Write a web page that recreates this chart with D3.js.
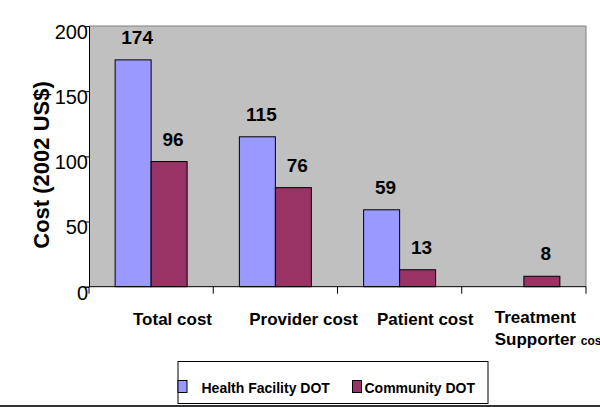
<!DOCTYPE html>
<html>
<head>
<meta charset="utf-8">
<script src="https://cdn.jsdelivr.net/npm/d3@7"></script>
<style>
  html, body { margin: 0; padding: 0; background: #fff; }
  svg { display: block; }
  text { font-family: Arial, "Liberation Sans", Helvetica, sans-serif; }
</style>
</head>
<body>
<svg id="chart" width="600" height="407"></svg>
<script>
const categories = ["Total cost", "Provider cost", "Patient cost", "Treatment Supporter cost"];
const seriesNames = ["Health Facility DOT", "Community DOT"];
const healthFacility = [174, 115, 59, null];
const community = [96, 76, 13, 8];
const yTicks = [0, 50, 100, 150, 200];
const colors = ["#9999ff", "#993366"];

(function () {
const svg = d3.select("#chart");
const pL = 89, pR = 586, pT = 26, pB = 286.7;

const x = d3.scaleBand().domain(categories).range([pL, pR]).paddingInner(0).paddingOuter(0);
const xInner = d3.scaleBand().domain(seriesNames).range([0, x.bandwidth()]).paddingInner(0).paddingOuter(0.726);
const y = d3.scaleLinear().domain([0, 200]).range([pB, pT]);

// plot background
svg.append("rect").attr("x", pL).attr("y", pT).attr("width", pR - pL).attr("height", pB - pT)
  .attr("fill", "#c0c0c0");
svg.append("path").attr("d", `M${pL},${pT}H${pR}V${pB}`).attr("fill", "none")
  .attr("stroke", "#808080").attr("stroke-width", 1);

// bars
const seriesData = [healthFacility, community];
const bars = [];
categories.forEach((c, i) => {
  seriesNames.forEach((s, j) => {
    const v = seriesData[j][i];
    if (v != null) bars.push({ c, s, v, j });
  });
});

svg.append("g").selectAll("rect").data(bars).join("rect")
  .attr("x", d => x(d.c) + xInner(d.s))
  .attr("y", d => y(d.v))
  .attr("width", xInner.bandwidth())
  .attr("height", d => y(0) - y(d.v))
  .attr("fill", d => colors[d.j])
  .attr("stroke", "#000").attr("stroke-width", 1);

svg.append("g").selectAll("text").data(bars).join("text")
  .attr("x", d => x(d.c) + xInner(d.s) + xInner.bandwidth() / 2 + 4)
  .attr("y", d => y(d.v) - 16)
  .attr("text-anchor", "middle")
  .attr("font-size", 19).attr("font-weight", "bold").attr("fill", "#000")
  .text(d => d.v);

// y axis
const yAxis = d3.axisLeft(y).tickValues(yTicks).tickSize(5).tickPadding(1).tickFormat(d3.format("d"));
const gy = svg.append("g").attr("transform", `translate(${pL},0)`).call(yAxis);
gy.select(".domain").attr("stroke", "#000");
gy.selectAll(".tick line").attr("stroke", "#000");
gy.selectAll(".tick text").attr("font-size", 20).attr("fill", "#000")
  .attr("font-family", "Arial, 'Liberation Sans', sans-serif").attr("dy", "0.62em").attr("x", -1);

// x axis
const gx = svg.append("g");
gx.append("line").attr("x1", pL).attr("x2", pR).attr("y1", pB).attr("y2", pB).attr("stroke", "#000");
const bounds = categories.map(c => x(c)).concat([pR]);
gx.selectAll("line.tk").data(bounds).join("line").attr("class", "tk")
  .attr("x1", d => d).attr("x2", d => d).attr("y1", pB).attr("y2", pB + 7).attr("stroke", "#000");

// category labels
const offsets = [44, 36, 39.5, 33];
categories.forEach((c, i) => {
  const gx0 = x(c) + offsets[i];
  if (i < 3) {
    svg.append("text").attr("x", gx0).attr("y", 325).attr("font-size", 17).attr("font-weight", "bold").text(c);
  } else {
    const parts = c.split(" ");
    svg.append("text").attr("x", gx0).attr("y", 323).attr("font-size", 17).attr("font-weight", "bold").text(parts[0]);
    const t = svg.append("text").attr("x", gx0).attr("y", 345).attr("font-weight", "bold");
    t.append("tspan").attr("font-size", 17).text(parts[1] + " ");
    t.append("tspan").attr("font-size", 12).text(parts[2]);
  }
});

// y title
svg.append("text").attr("transform", "translate(49,165) rotate(-90)")
  .attr("text-anchor", "middle").attr("font-size", 22).attr("font-weight", "bold").text("Cost (2002 US$)");

// legend
const lg = svg.append("g");
lg.append("rect").attr("x", 178).attr("y", 361.5).attr("width", 310).attr("height", 42)
  .attr("fill", "#fff").attr("stroke", "#000").attr("stroke-width", 1);
const legendX = [178, 352.5];
const legendTextX = [201.5, 364.5];
seriesNames.forEach((s, j) => {
  lg.append("rect").attr("x", legendX[j]).attr("y", 380.5).attr("width", 9).attr("height", 12)
    .attr("fill", colors[j]).attr("stroke", "#000").attr("stroke-width", 1);
  lg.append("text").attr("x", legendTextX[j]).attr("y", 392.5).attr("font-size", 14).attr("font-weight", "bold").text(s);
});

// bottom rule
svg.append("rect").attr("x", 0).attr("y", 405).attr("width", 600).attr("height", 2).attr("fill", "#333");
})();
</script>
</body>
</html>
